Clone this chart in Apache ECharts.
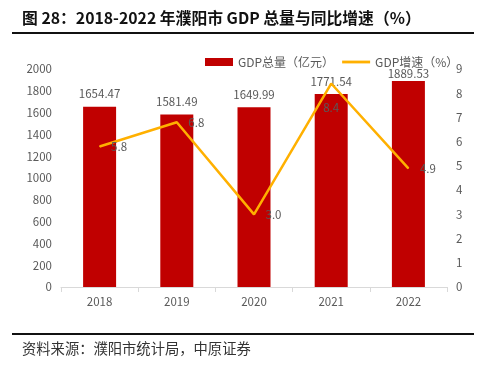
<!DOCTYPE html>
<html><head><meta charset="utf-8">
<script src="https://cdn.jsdelivr.net/npm/echarts@6/dist/echarts.min.js"></script>
<style>html,body{margin:0;padding:0;background:#fff;}#c{width:484px;height:373px;}</style>
</head><body><div id="c"></div>
<script>
const categories = ['2018','2019','2020','2021','2022'];
const gdpTotal = [1654.47, 1581.49, 1649.99, 1771.54, 1889.53];
const gdpGrowth = [5.8, 6.8, 3.0, 8.4, 4.9];
const leftTicks = [0, 2000, 200];
const rightTicks = [0, 9, 1];
const titleText = '图 28：2018-2022 年濮阳市 GDP 总量与同比增速（%）';
const sourceText = '资料来源：濮阳市统计局，中原证券';

const chart = echarts.init(document.getElementById('c'));
const lblColor = '#595959';
const font = '"Noto Sans CJK SC", "Noto Sans", sans-serif';
chart.setOption({
  animation: false,
  textStyle: {fontFamily: font},
  graphic: [
    {type: 'text', left: 22, top: 10, style: {text: titleText, font: 'bold 15.8px ' + font, fill: '#111'}},
    {type: 'rect', shape: {x: 12, y: 32, width: 462, height: 2}, style: {fill: '#111'}},
    {type: 'rect', shape: {x: 12, y: 333, width: 462, height: 2}, style: {fill: '#111'}},
    {type: 'text', left: 22, top: 341, style: {text: sourceText, font: '14.3px ' + font, fill: '#333'}}
  ],
  legend: {
    top: 51, left: 200, itemGap: 8, itemWidth: 28, itemHeight: 8,
    textStyle: {color: lblColor, fontSize: 12},
    data: [{name: 'GDP总量（亿元）', icon: 'rect'}, {name: 'GDP增速（%）', icon: 'path://M0,0H30V3H0Z'}]
  },
  grid: {left: 61, right: 37, top: 69, bottom: 86},
  xAxis: {
    type: 'category', data: categories,
    axisLine: {lineStyle: {color: '#d9d9d9'}},
    axisTick: {show: true, lineStyle: {color: '#d9d9d9'}},
    axisLabel: {color: lblColor, fontSize: 11.5, margin: 9}
  },
  yAxis: [
    {type: 'value', min: leftTicks[0], max: leftTicks[1], interval: leftTicks[2],
     axisLabel: {color: lblColor, fontSize: 11.5, margin: 9, formatter: v => String(v)}, splitLine: {show: false},
     axisLine: {show: false}, axisTick: {show: false}},
    {type: 'value', min: rightTicks[0], max: rightTicks[1], interval: rightTicks[2],
     axisLabel: {color: lblColor, fontSize: 11.5, margin: 9}, splitLine: {show: false},
     axisLine: {show: false}, axisTick: {show: false}}
  ],
  series: [
    {name: 'GDP总量（亿元）', type: 'bar', data: gdpTotal.map((v, i) => i === 4 ? {value: v, label: {distance: 2}} : v), barWidth: 33,
     itemStyle: {color: '#C00000'},
     label: {show: true, position: 'top', color: lblColor, fontSize: 11.5, distance: 7,
             formatter: p => p.value.toFixed(2)}},
    {name: 'GDP增速（%）', type: 'line', yAxisIndex: 1,
     data: gdpGrowth.map((v, i) => i === 3 ? {value: v, label: {position: 'bottom', distance: 18}} : v),
     symbol: 'circle', symbolSize: 1, showSymbol: true,
     lineStyle: {color: '#FFB000', width: 2.5}, itemStyle: {color: '#FFB000'},
     label: {show: true, position: 'right', color: lblColor, fontSize: 11.5, distance: 11,
             formatter: p => p.value.toFixed(1)},
     z: 3}
  ]
});
</script></body></html>
